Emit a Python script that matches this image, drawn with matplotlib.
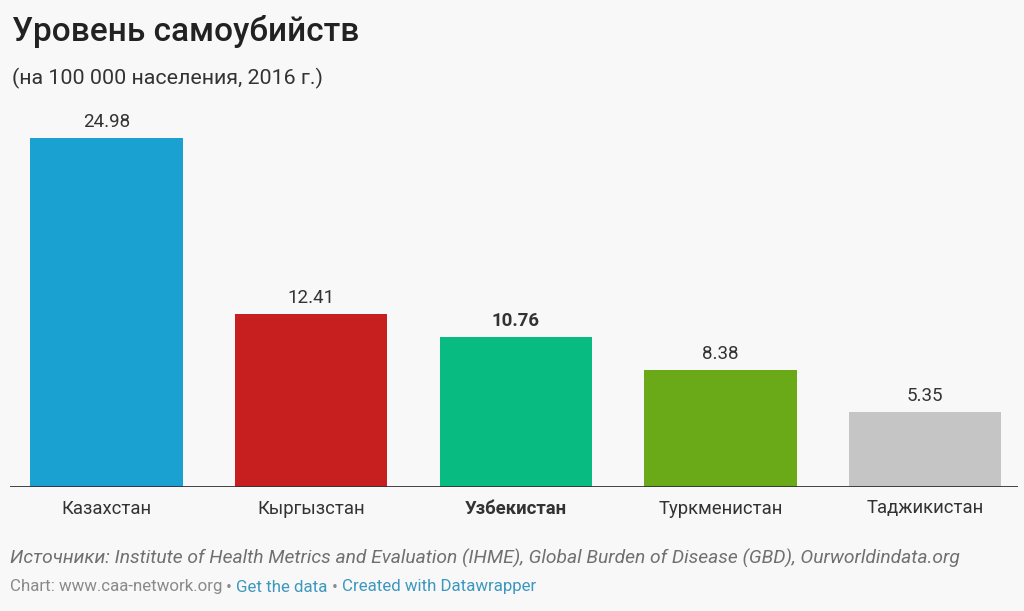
import matplotlib
matplotlib.use("Agg")
import matplotlib.pyplot as plt

countries = ["Казахстан", "Кыргызстан", "Узбекистан", "Туркменистан", "Таджикистан"]
values = [24.98, 12.41, 10.76, 8.38, 5.35]
value_labels = ["24.98", "12.41", "10.76", "8.38", "5.35"]
colors = ["#1aa1d1", "#c71e1f", "#08bb80", "#6aaa18", "#c5c5c5"]
highlight = "Узбекистан"

title = "Уровень самоубийств"
subtitle = "(на 100 000 населения, 2016 г.)"
source = "Источники: Institute of Health Metrics and Evaluation (IHME), Global Burden of Disease (GBD), Ourworldindata.org"
footer_parts = [("Chart: www.caa-network.org", "#8a8a8a"), (" • ", "#8a8a8a"),
                ("Get the data", "#3d97bf"), (" • ", "#8a8a8a"),
                ("Created with Datawrapper", "#3d97bf")]

plt.rcParams['font.family'] = ['Roboto', 'DejaVu Sans']
bg = "#f8f8f8"
W, H = 1024, 611
fig = plt.figure(figsize=(W / 100, H / 100), dpi=100, facecolor=bg)

left_px, right_px, base_px = 10, 1018, 487
top_px = 96
ax = fig.add_axes([left_px / W, 1 - base_px / H, (right_px - left_px) / W, (base_px - top_px) / H])
ax.set_facecolor(bg)
x = list(range(len(countries)))
ax.bar(x, values, width=0.745, color=colors, zorder=2)
ax.set_xlim(-0.472, 4.455)
ax.set_ylim(0, 28.0)
for s in ax.spines.values():
    s.set_visible(False)
ax.set_yticks([])
ax.set_xticks([])
ax.axhline(0, color="#333333", lw=1.3, zorder=3)

for xi, v, lab, c in zip(x, values, value_labels, countries):
    ax.annotate(lab, (xi, v), xytext=(0, 5), textcoords="offset points",
                ha="center", va="bottom", fontsize=13.5, color="#333333",
                fontweight="bold" if c == highlight else "normal")
    ax.annotate(c, (xi, 0), xytext=(0, -9), textcoords="offset points",
                ha="center", va="top", fontsize=13.3, color="#333333",
                fontweight="bold" if c == highlight else "normal")

fig.text(12 / W, 1 - 31 / H, title, fontsize=24, fontweight="medium", color="#222222",
         ha="left", va="center")
fig.text(12 / W, 1 - 78 / H, subtitle, fontsize=15.4, color="#333333", ha="left", va="center")
fig.text(10 / W, 1 - 558 / H, source, fontsize=13.9, color="#707070", style="italic",
         ha="left", va="center")

fig.canvas.draw()
r = fig.canvas.get_renderer()
xpos = 10
for txt, col in footer_parts:
    t = fig.text(xpos / W, 1 - 587 / H, txt, fontsize=12.2, color=col, ha="left", va="center")
    bb = t.get_window_extent(renderer=r)
    xpos += bb.width

fig.savefig("out.png", dpi=100, facecolor=bg)
